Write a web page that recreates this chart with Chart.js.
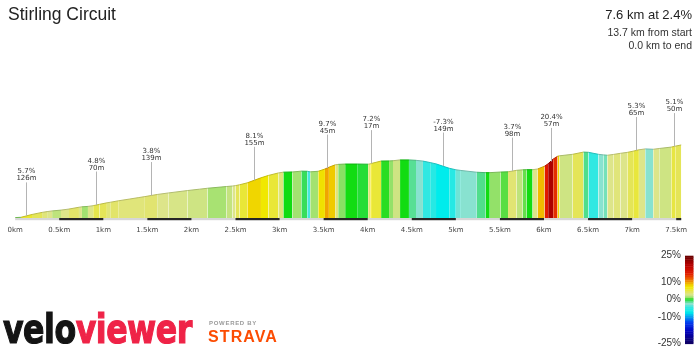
<!DOCTYPE html>
<html>
<head>
<meta charset="utf-8">
<title>Stirling Circuit</title>
<script src="https://cdn.jsdelivr.net/npm/chart.js@4.4.1/dist/chart.umd.min.js"></script>
<style>
  html, body { margin: 0; padding: 0; background: #fff; width: 700px; height: 350px; overflow: hidden; }
  #wrap { position: relative; width: 700px; height: 350px; }
  #wrap canvas { position: absolute; left: 0; top: 0; }
  .txt { position: absolute; white-space: nowrap; line-height: 1; font-family: "Liberation Sans", Arial, sans-serif; color: #222; }
  #title { left: 8px; top: 6px; font-size: 17.5px; }
  #summary { right: 8px; top: 8px; font-size: 13px; text-align: right; }
  #fromStart { right: 8px; top: 27px; font-size: 10.5px; color: #333; }
  #toEnd { right: 8px; top: 40px; font-size: 10.5px; color: #333; }
  #logo { left: 3px; top: 309px; font-family: "DejaVu Sans", sans-serif; font-weight: bold; font-size: 40px;
          letter-spacing: -0.6px; transform: scaleX(0.79); transform-origin: 0 0; -webkit-text-stroke: 1.2px; }
  #logo .velo { color: #141414; }
  #logo .viewer { color: #ef2347; }
  #powered { left: 209px; top: 320px; font-size: 6px; font-weight: bold; letter-spacing: 0.7px; color: #9a9a9a; }
  #strava { left: 208px; top: 329px; font-size: 16px; font-weight: bold; letter-spacing: 1.1px; color: #fc4c02; }
</style>
</head>
<body>
<div id="wrap">
  <canvas id="profile" width="700" height="350"></canvas>
  <div class="txt" id="title">Stirling Circuit</div>
  <div class="txt" id="summary">7.6 km at 2.4%</div>
  <div class="txt" id="fromStart">13.7 km from start</div>
  <div class="txt" id="toEnd">0.0 km to end</div>
  <div class="txt" id="logo"><span class="velo">velo</span><span class="viewer">viewer</span></div>
  <div class="txt" id="powered">POWERED BY</div>
  <div class="txt" id="strava">STRAVA</div>
</div>
<script>
// Distance (km) at each segment boundary along the segment
const KM = [
  0.000, 0.065, 0.191, 0.305, 0.362, 0.419, 0.520, 0.611, 0.724, 0.758,
  0.826, 0.885, 0.955, 1.041, 1.086, 1.176, 1.301, 1.403, 1.472, 1.611,
  1.742, 1.957, 2.093, 2.183, 2.398, 2.466, 2.500, 2.545, 2.634, 2.789,
  2.873, 2.986, 3.043, 3.145, 3.247, 3.314, 3.348, 3.439, 3.515, 3.560,
  3.631, 3.665, 3.744, 3.880, 4.005, 4.030, 4.047, 4.152, 4.242, 4.287,
  4.367, 4.468, 4.548, 4.627, 4.717, 4.775, 4.924, 5.000, 5.057, 5.238,
  5.339, 5.385, 5.509, 5.592, 5.690, 5.758, 5.803, 5.871, 5.928, 6.007,
  6.047, 6.104, 6.154, 6.176, 6.324, 6.448, 6.505, 6.618, 6.674, 6.719,
  6.787, 6.867, 6.946, 7.012, 7.077, 7.149, 7.240, 7.308, 7.445, 7.495,
  7.557
];

// Elevation (m) at each boundary
const ELEV = [
  11.0, 11.7, 18.8, 24.0, 26.0, 27.7, 29.7, 32.4, 36.9, 38.0,
  39.0, 40.8, 44.1, 48.0, 49.6, 53.2, 57.5, 61.1, 63.5, 68.8,
  72.7, 78.7, 82.1, 84.4, 88.7, 90.0, 91.0, 93.0, 97.9, 110.5,
  116.4, 122.6, 124.6, 125.1, 127.1, 126.8, 125.4, 126.8, 132.5, 136.9,
  142.9, 144.1, 144.9, 144.9, 144.5, 145.4, 146.6, 152.4, 152.7, 153.2,
  155.2, 155.2, 154.2, 152.3, 148.2, 145.3, 134.4, 130.6, 128.9, 124.4,
  123.4, 123.4, 124.9, 125.5, 129.2, 130.5, 130.8, 130.8, 132.5, 139.6,
  145.6, 157.2, 164.2, 165.5, 169.2, 174.8, 174.2, 169.2, 167.8, 166.9,
  168.9, 171.7, 174.1, 177.1, 180.5, 182.7, 181.8, 183.8, 187.3, 189.8,
  192.6
];

// Gradient (%) of each segment, used for its colour
const GRADE = [
  1.0, 5.7, 4.5, 3.5, 3.0, 2.0, 3.0, 4.0, 3.0, 1.5,
  3.0, 4.8, 4.5, 3.5, 4.0, 3.5, 3.5, 3.5, 3.8, 3.0,
  2.8, 2.5, 2.5, 1.6, 2.2, 3.0, 4.5, 5.5, 8.1, 7.0,
  5.5, 3.5, 0.0, 1.5, -0.6, -4.0, 1.5, 7.5, 9.7, 8.5,
  3.5, 1.0, 0.0, -0.3, 3.5, 7.2, 5.5, 0.2, 1.2, 2.5,
  0.0, -1.2, -2.5, -4.5, -5.0, -7.3, -5.0, -3.0, -2.5, -1.0,
  0.0, 1.2, 0.6, 3.7, 2.0, 0.7, 0.0, 3.0, 9.0, 15.0,
  20.4, 14.0, 8.0, 2.5, 4.5, -1.0, -4.5, -2.5, -2.0, 3.0,
  3.5, 3.0, 4.5, 5.3, 3.0, -2.5, 3.0, 2.5, 5.1, 4.5
];

// Segments that carry a gradient / length callout
const CALLOUT_SEGMENTS = [1, 11, 18, 28, 38, 45, 55, 63, 70, 83, 88];

// Gradient colour key tick values (%)
const KEY_TICKS = [25, 10, 0, -10, -25];

const TOTAL_KM = 7.6;

// Gradient -> colour ramp
const RAMP = [
  [-25, [15, 0, 95]], [-18, [0, 0, 190]], [-13, [0, 60, 240]], [-10, [0, 150, 240]],
  [-7.3, [0, 236, 236]], [-4.5, [48, 232, 226]], [-2.5, [136, 226, 208]], [-1, [80, 222, 140]],
  [0, [18, 220, 18]], [1, [136, 224, 100]], [2, [190, 227, 124]], [3, [221, 229, 138]],
  [4, [226, 228, 105]], [5, [230, 230, 70]], [6, [236, 232, 40]], [7, [240, 232, 0]],
  [8.1, [240, 214, 0]], [9.7, [240, 164, 0]], [12, [236, 90, 0]], [15, [224, 24, 0]],
  [20, [178, 0, 0]], [25, [100, 0, 0]]
];

function gradeRGB(g) {
  if (g <= RAMP[0][0]) return RAMP[0][1];
  if (g >= RAMP[RAMP.length - 1][0]) return RAMP[RAMP.length - 1][1];
  for (let i = 0; i < RAMP.length - 1; i++) {
    const [g0, c0] = RAMP[i], [g1, c1] = RAMP[i + 1];
    if (g >= g0 && g <= g1) {
      const t = (g - g0) / (g1 - g0);
      return c0.map((v, k) => Math.round(v + (c1[k] - v) * t));
    }
  }
  return [128, 128, 128];
}
const rgb = c => `rgb(${c[0]},${c[1]},${c[2]})`;
const gradeColour = g => rgb(gradeRGB(g));
const gradeEdge = g => rgb(gradeRGB(g).map(v => Math.round(v * 0.82)));

// Half-km distance strip, callouts and colour key
const profileDecor = {
  id: 'profileDecor',
  afterDatasetsDraw(chart) {
    const { ctx, chartArea, scales: { x, y } } = chart;
    const endKm = KM[KM.length - 1];
    ctx.save();

    // distance strip under the profile
    const sy = chartArea.bottom;
    ctx.fillStyle = '#d6d6d6';
    ctx.fillRect(x.getPixelForValue(0), sy, x.getPixelForValue(endKm) - x.getPixelForValue(0), 2.2);
    ctx.fillStyle = '#262626';
    for (let k = 0.5; k < endKm; k += 1) {
      const a = x.getPixelForValue(k), b = x.getPixelForValue(Math.min(k + 0.5, endKm));
      ctx.fillRect(a, sy, b - a, 2.2);
    }

    // callouts
    ctx.font = '7px "DejaVu Sans", Verdana, sans-serif';
    ctx.textAlign = 'center';
    ctx.textBaseline = 'middle';
    CALLOUT_SEGMENTS.forEach(i => {
      const mid = (KM[i] + KM[i + 1]) / 2;
      const elev = (ELEV[i] + ELEV[i + 1]) / 2;
      const px = Math.round(x.getPixelForValue(mid)) + 0.5;
      const py = y.getPixelForValue(elev);
      const top = py - 33.5;
      ctx.strokeStyle = '#b4b4b4';
      ctx.lineWidth = 1;
      ctx.beginPath();
      ctx.moveTo(px, py);
      ctx.lineTo(px, top);
      ctx.stroke();
      const len = Math.round((KM[i + 1] - KM[i]) * 1000);
      ctx.fillStyle = '#333';
      ctx.fillText(GRADE[i].toFixed(1) + '%', px, top - 10.8);
      ctx.fillText(len + 'm', px, top - 3.8);
    });

    // gradient colour key
    const kx = 685, kw = 8.5, kTop = 255.7, kBottom = 343.7;
    const kPix = g => kTop + (25 - g) / 50 * (kBottom - kTop);
    for (let g = 25; g > -25; g -= 1) {
      ctx.fillStyle = gradeColour(g - 0.5);
      const a = kPix(g), b = kPix(g - 1);
      ctx.fillRect(kx, a, kw, b - a + 0.4);
    }
    ctx.font = '10px "Liberation Sans", Arial, sans-serif';
    ctx.textAlign = 'right';
    ctx.fillStyle = '#333';
    KEY_TICKS.forEach(t => ctx.fillText(t + '%', 681, kPix(t)));

    ctx.restore();
  }
};

new Chart(document.getElementById('profile'), {
  type: 'line',
  data: {
    datasets: [{
      data: KM.map((k, i) => ({ x: k, y: ELEV[i] })),
      fill: 'start',
      tension: 0,
      pointRadius: 0,
      borderWidth: 1,
      borderColor: '#999',
      backgroundColor: '#ddd',
      segment: {
        backgroundColor: c => gradeColour(GRADE[c.p0DataIndex]),
        borderColor: c => gradeEdge(GRADE[c.p0DataIndex])
      }
    }]
  },
  options: {
    responsive: false,
    animation: false,
    devicePixelRatio: 1,
    layout: { padding: { left: 13, right: 15, top: 40, bottom: 112 } },
    plugins: { legend: { display: false }, tooltip: { enabled: false } },
    scales: {
      x: {
        type: 'linear',
        min: 0,
        max: TOTAL_KM,
        grid: { display: false, drawTicks: false },
        border: { display: false },
        ticks: {
          stepSize: 0.5,
          includeBounds: false,
          autoSkip: false,
          maxRotation: 0,
          padding: 7.5,
          color: '#444',
          font: { family: '"DejaVu Sans", Verdana, sans-serif', size: 7 },
          callback: v => v + 'km'
        },
        afterFit(scale) { scale.height = 20; }
      },
      y: { display: false, min: 10, max: 455 }
    }
  },
  plugins: [profileDecor]
});
</script>
</body>
</html>
